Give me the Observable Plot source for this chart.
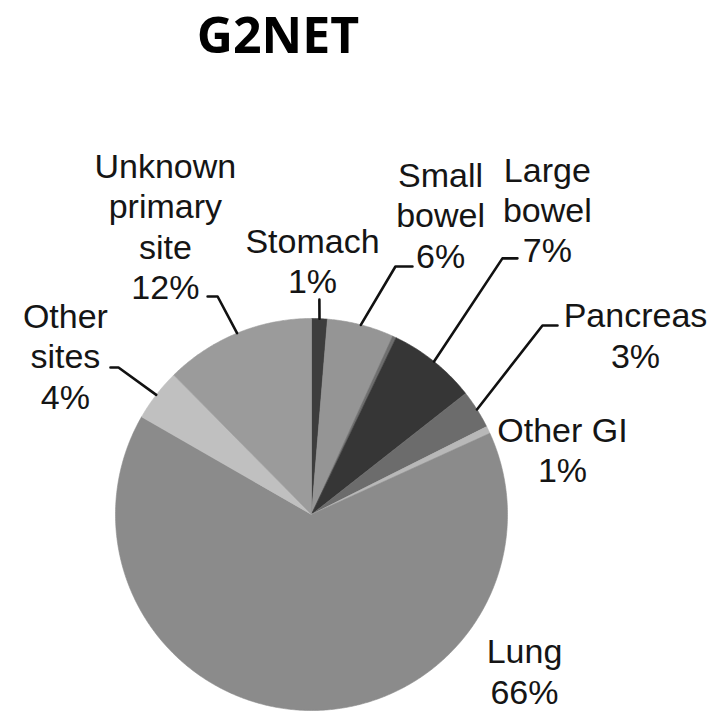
<!DOCTYPE html>
<html><head><meta charset="utf-8">
<script src="https://cdn.jsdelivr.net/npm/d3@7"></script>
<script src="https://cdn.jsdelivr.net/npm/@observablehq/plot@0.6"></script>
<style>
body{margin:0;background:#fff;}
#wrap{width:716px;height:711px;position:relative;}
#title{position:absolute;left:0;top:0;width:556px;height:70px;text-align:center;font-family:"Open Sans",sans-serif;font-weight:700;font-size:50px;line-height:normal;color:#000;white-space:nowrap;margin:0;padding:0;}
#chart{position:absolute;left:0;top:70px;}
</style></head><body>
<div id="wrap"><h1 id="title">G2NET</h1><div id="chart"></div></div>
<script>
// ---- data (clockwise from 12 o'clock) ----
const categories = ["Stomach","Small bowel","(unlabelled)","Large bowel","Pancreas","Other GI","Lung","Other sites","Unknown primary site"];
const values = [1.3, 5.5, 0.3, 7.3, 3.2, 0.6, 65.1, 4.3, 12.4];
const pctLabels = ["1%","6%","","7%","3%","1%","66%","4%","12%"];
const nameLines = ["Stomach","Small\nbowel","","Large\nbowel","Pancreas","Other GI","Lung","Other\nsites","Unknown\nprimary\nsite"];
const colors = ["#3d3d3d","#959595","#6e6e6e","#363636","#6c6c6c","#b8b8b8","#8b8b8b","#c0c0c0","#9b9b9b"];

// ---- layout (polar: degrees clockwise from north, radius in pie radii) ----
const labelPolar = [[0.26,1.128],[27.6,1.422],null,[43.1,1.761],[65.6,1.815],[82.7,1.291],[131.6,1.453],[293.3,1.367],[325.9,1.330]];
const leaderElbow = [[2.1,1.097,0],[18.7,1.336,17],null,[36.7,1.630,15],[50.7,1.523,15],null,null,[307.3,1.238,-8],[336.7,1.211,-10]];

const W = 716, H = 641, R = 196, CX = 311, CY = 444;
const rad = d => d * Math.PI / 180;
const polar = (deg, r) => ({x: r * Math.sin(rad(deg)), y: r * Math.cos(rad(deg))});

const arcs = d3.pie().sort(null).value(d => d)(values);

// slice polygons
const slicePts = [];
arcs.forEach((a, i) => {
  const cat = categories[i];
  slicePts.push({cat, x: 0, y: 0});
  const n = Math.max(2, Math.ceil((a.endAngle - a.startAngle) / rad(0.5)));
  for (let k = 0; k <= n; ++k) {
    const t = a.startAngle + (a.endAngle - a.startAngle) * k / n;
    slicePts.push({cat, x: Math.sin(t), y: Math.cos(t)});
  }
  slicePts.push({cat, x: 0, y: 0});
});

// leader lines
const leaderPts = [];
arcs.forEach((a, i) => {
  const e = leaderElbow[i];
  if (!e) return;
  const mid = (a.startAngle + a.endAngle) / 2;
  const cat = categories[i];
  const el = polar(e[0], e[1]);
  leaderPts.push({cat, x: Math.sin(mid), y: Math.cos(mid)});
  leaderPts.push({cat, ...el});
  if (e[2]) leaderPts.push({cat, x: el.x + e[2] / R, y: el.y});
});

// labels
const labelData = [];
categories.forEach((c, i) => {
  const p = labelPolar[i];
  if (!p) return;
  labelData.push({cat: c, ...polar(p[0], p[1]), text: nameLines[i] + "\n" + pctLabels[i]});
});

const chart = Plot.plot({
  width: W, height: H, margin: 0,
  x: {domain: [-CX / R, (W - CX) / R], axis: null},
  y: {domain: [-(H - CY) / R, CY / R], axis: null},
  color: {domain: categories, range: colors},
  style: {fontFamily: "'Liberation Sans', Arial, sans-serif", background: "#fff"},
  marks: [
    Plot.line(slicePts, {x: "x", y: "y", z: "cat", fill: "cat", stroke: "cat", strokeWidth: 0.6, curve: "linear"}),
    Plot.line(leaderPts, {x: "x", y: "y", z: "cat", stroke: "#111", strokeWidth: 2.6, curve: "linear"}),
    Plot.text(labelData, {x: "x", y: "y", text: "text", textAnchor: "middle", lineAnchor: "bottom", lineHeight: 1.18, fontSize: 34, fill: "#151515"})
  ]
});
document.getElementById("chart").appendChild(chart);
</script>
</body></html>
